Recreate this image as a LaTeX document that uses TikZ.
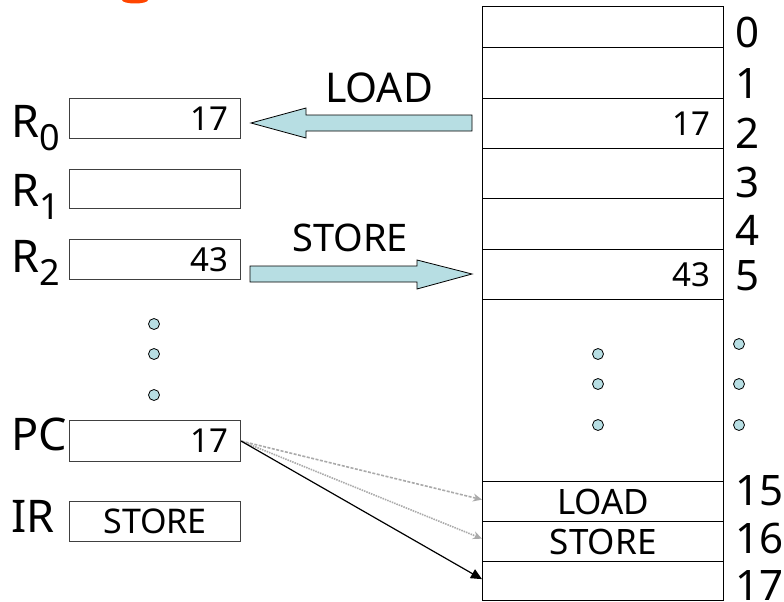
\documentclass[tikz,border=0pt]{standalone}
\usepackage{fontspec}
\setmainfont{Noto Sans}
\usetikzlibrary{arrows.meta}
\definecolor{arrowfill}{RGB}{183,222,227}
\definecolor{titlered}{RGB}{255,69,0}
\definecolor{pathgray}{RGB}{170,170,170}
\newcommand{\fsz}[1]{\fontsize{#1}{#1}\selectfont}
\begin{document}
\begin{tikzpicture}[x=1pt,y=-1pt,
  reg/.style={draw=black!75, line width=1.2pt, inner sep=0pt, inner xsep=12pt,
    text width=147pt, minimum height=40pt, anchor=north west, font=\fsz{33}, align=right},
  mcell/.style={draw=black, line width=1.3pt, inner sep=0pt, inner xsep=13pt,
    text width=215pt, anchor=north west, font=\fsz{33}, align=right},
  lbl/.style={inner sep=0pt, font=\fsz{45}, anchor=base west},
  idx/.style={inner sep=0pt, font=\fsz{42}, anchor=base west},
  optext/.style={inner sep=0pt, font=\fsz{38}},
  blockarrow/.style={draw=black, line width=0.8pt, fill=arrowfill, line join=miter},
  dot/.style={circle, draw=black, line width=0.8pt, fill=arrowfill, minimum size=11pt, inner sep=0pt},
  fetch/.style={draw=pathgray, line width=1.6pt, -{Stealth[open, length=9pt, width=8pt]}},
  taken/.style={draw=black, line width=1.2pt, -{Triangle[length=11pt, width=10pt]}}
]
\useasboundingbox (0,0) rectangle (784,602);

% clipped title fragment
\fill[titlered] (135,0) ellipse [x radius=13, y radius=3.5];

% memory column
\node[mcell, minimum height=41pt]  (m0)  at (482,6)   {};
\node[mcell, minimum height=51pt]  (m1)  at (482,47)  {};
\node[mcell, minimum height=50pt]  (m2)  at (482,98)  {17};
\node[mcell, minimum height=50pt]  (m3)  at (482,148) {};
\node[mcell, minimum height=51pt]  (m4)  at (482,198) {};
\node[mcell, minimum height=50pt]  (m5)  at (482,249) {43};
\node[mcell, minimum height=182pt] (mg)  at (482,299) {};
\node[mcell, minimum height=40pt, align=center] (m15) at (482,481) {\fsz{35}LOAD};
\node[mcell, minimum height=40pt, align=center] (m16) at (482,521) {\fsz{35}STORE};
\node[mcell, minimum height=39pt]  (m17) at (482,561) {};

% address labels
\node[idx] (a0)  at (735,48)  {0};
\node[idx] (a1)  at (735,99)  {1};
\node[idx] (a2)  at (735,148) {2};
\node[idx] (a3)  at (735,197) {3};
\node[idx] (a4)  at (735,245) {4};
\node[idx] (a5)  at (735,290) {5};
\node[idx] (a15) at (735,505) {15};
\node[idx] (a16) at (735,553) {16};
\node[idx] (a17) at (735,600) {17};

% registers
\node[reg] (r0) at (69,98)  {17};
\node[reg, minimum height=39pt] (r1) at (69,169) {};
\node[reg] (r2) at (69,239) {43};
\node[reg, minimum height=41pt] (pc) at (69,420) {17};
\node[reg, align=center, font=\fsz{34}] (ir) at (69,501) {STORE};

\node[lbl] (lr0) at (11,137) {R\raisebox{-13pt}{\fsz{36}0}};
\node[lbl] (lr1) at (11,206) {R\raisebox{-13pt}{\fsz{36}1}};
\node[lbl] (lr2) at (11,272) {R\raisebox{-13pt}{\fsz{36}2}};
\node[lbl] (lpc) at (11,450) {PC};
\node[lbl] (lir) at (11,532) {IR};

% dots
\foreach \y [count=\i] in {324,354,395} \node[dot] (dl\i) at (154,\y) {};
\foreach \y [count=\i] in {354,384,425} \node[dot] (dm\i) at (598,\y) {};
\foreach \y [count=\i] in {344,384,425} \node[dot] (da\i) at (739,\y) {};

% LOAD block arrow (memory -> R0)
\draw[blockarrow] (472,115) -- (306,115) -- (306,108) -- (251,123) -- (306,138)
  -- (306,131) -- (472,131) -- cycle;
\node[optext, font=\fsz{41}] (tload) at (379,88) {LOAD};

% STORE block arrow (R2 -> memory)
\draw[blockarrow] (250,266) -- (417,266) -- (417,260) -- (472,274) -- (417,289)
  -- (417,282) -- (250,282) -- cycle;
\node[optext] (tstore) at (350,238) {STORE};

% PC pointers
\draw[fetch, dash pattern=on 3pt off 1.5pt] (pc.east) -- ([yshift=2pt]m15.west);
\draw[fetch, dash pattern=on 1.5pt off 1pt] (pc.east) -- ([yshift=3pt]m16.west);
\draw[taken] (pc.east) -- ([yshift=2pt]m17.west);
\end{tikzpicture}
\end{document}
